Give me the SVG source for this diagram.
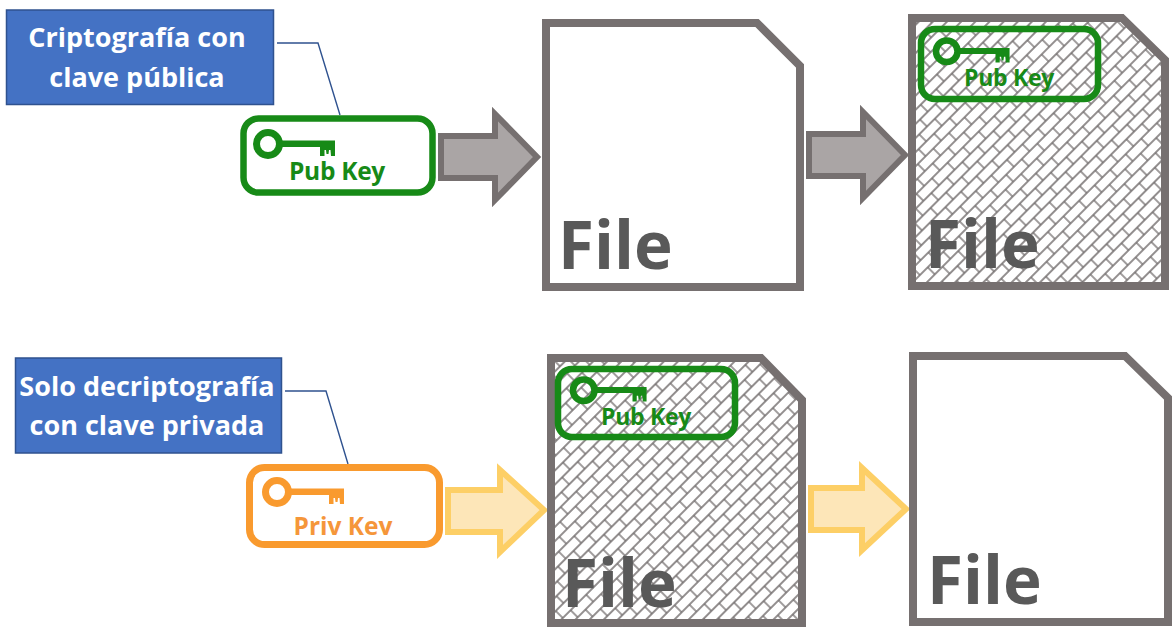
<svg xmlns="http://www.w3.org/2000/svg" width="1176" height="628" viewBox="0 0 1176 628">
<style>
text{font-family:"Open Sans","Noto Sans","Liberation Sans",sans-serif;font-weight:700}
.note{fill:#4472c4;stroke:#2f528f;stroke-width:1.5}
.notet{fill:#fff;font-size:27px;text-anchor:middle}
.lead{fill:none;stroke:#2f528f;stroke-width:1.4}
.doc{stroke:#767070;stroke-width:8;stroke-linejoin:miter}
.plain{fill:#fff}
.hatch{fill:url(#brick)}
.ft{fill:#595959;font-size:65.500px}
.gb{fill:none;stroke:#178a17;stroke-width:6.5}
.gk{color:#178a17}
.gt{fill:#178a17;font-size:24.500px;text-anchor:middle;letter-spacing:-.3px}
.gt2{fill:#178a17;font-size:23px;text-anchor:middle;letter-spacing:-.3px}
.ob{fill:none;stroke:#f99a2e;stroke-width:7}
.ok{color:#f99a2e}
.ot{fill:#f5963a;font-size:24.500px;text-anchor:middle}
.ga{fill:#aaa5a5;stroke:#767070;stroke-width:6}
.ya{fill:#fde6b8;stroke:#fdcf66;stroke-width:6}
</style>
<defs>
<pattern id="brick" width="22" height="20" patternUnits="userSpaceOnUse" patternTransform="rotate(-45)">
<rect width="22" height="20" fill="#fff"/>
<path d="M0 5H22M0 15H22M5 5V15M16 15V20M16 0V5" fill="none" stroke="#6f6a6a" stroke-width="1.300"/>
</pattern>
<symbol id="key" viewBox="0 0 82 32" width="82" height="32" overflow="visible">
<circle cx="13" cy="13" r="11.500" fill="none" stroke="currentColor" stroke-width="7"/>
<path d="M24 9.500H80V25H76L75.500 19H74L73.500 23H71.500L71 19H69.500V25H65V16H24Z" fill="currentColor"/>
</symbol>
<clipPath id="privclip"><rect x="250" y="500" width="190" height="35"/></clipPath>
</defs>

<g id="connectors">
<path class="lead" d="M277 43H318L340 115"/>
<path class="lead" d="M285 391H326L348 464"/>
</g>

<g id="note-public">
<rect class="note" x="6.500" y="10" width="267" height="94.500"/>
<text class="notet" x="137" y="47">Criptografía con</text>
<text class="notet" x="137" y="87">clave pública</text>
</g>
<g id="note-private">
<rect class="note" x="15.500" y="358" width="266" height="95"/>
<text class="notet" x="147" y="396">Solo decriptografía</text>
<text class="notet" x="147" y="435">con clave privada</text>
</g>

<g id="pub-key" class="gk">
<rect class="gb" x="243.500" y="118.500" width="189" height="74" rx="15"/>
<use href="#key" x="255" y="131" width="82" height="32"/>
<text class="gt" x="337" y="180">Pub Key</text>
</g>

<g id="arrow-1"><path class="ga" d="M441 136H495V114L537 157L495 200V178H441Z"/></g>

<g id="file-1">
<path class="doc plain" d="M546 23H757L800 66V287H546Z"/>
<text class="ft" x="558" y="269">File</text>
</g>

<g id="arrow-2"><path class="ga" d="M809 134H863V112L905 155L863 198V176H809Z"/></g>

<g id="file-2">
<path class="doc hatch" d="M912 18H1122L1165 60V286H912Z"/>
<rect class="gb" x="921" y="29" width="177" height="70" rx="14" />
<use class="gk" href="#key" x="934" y="39" width="78" height="30"/>
<text class="gt2" x="1009" y="86">Pub Key</text>
<text class="ft" x="925" y="268">File</text>
</g>

<g id="priv-key" class="ok">
<rect class="ob" x="249.500" y="467.500" width="190" height="77" rx="15"/>
<use href="#key" x="264" y="479" width="82" height="32"/>
<text class="ot" x="343" y="535" clip-path="url(#privclip)">Priv Key</text>
</g>

<g id="arrow-3"><path class="ya" d="M448 490H500V470L544 510L500 552V532H448Z"/></g>

<g id="file-3">
<path class="doc hatch" d="M551 358H761L802 400V623H551Z"/>
<rect class="gb" x="558" y="369" width="177" height="68" rx="14"/>
<use class="gk" href="#key" x="571" y="378" width="78" height="30"/>
<text class="gt2" x="646" y="425">Pub Key</text>
<text class="ft" x="562" y="607">File</text>
</g>

<g id="arrow-4"><path class="ya" d="M811 488H862V468L906 509L862 550V530H811Z"/></g>

<g id="file-4">
<path class="doc plain" d="M913 356H1125L1168 398V622H913Z"/>
<text class="ft" x="927" y="604">File</text>
</g>
</svg>
